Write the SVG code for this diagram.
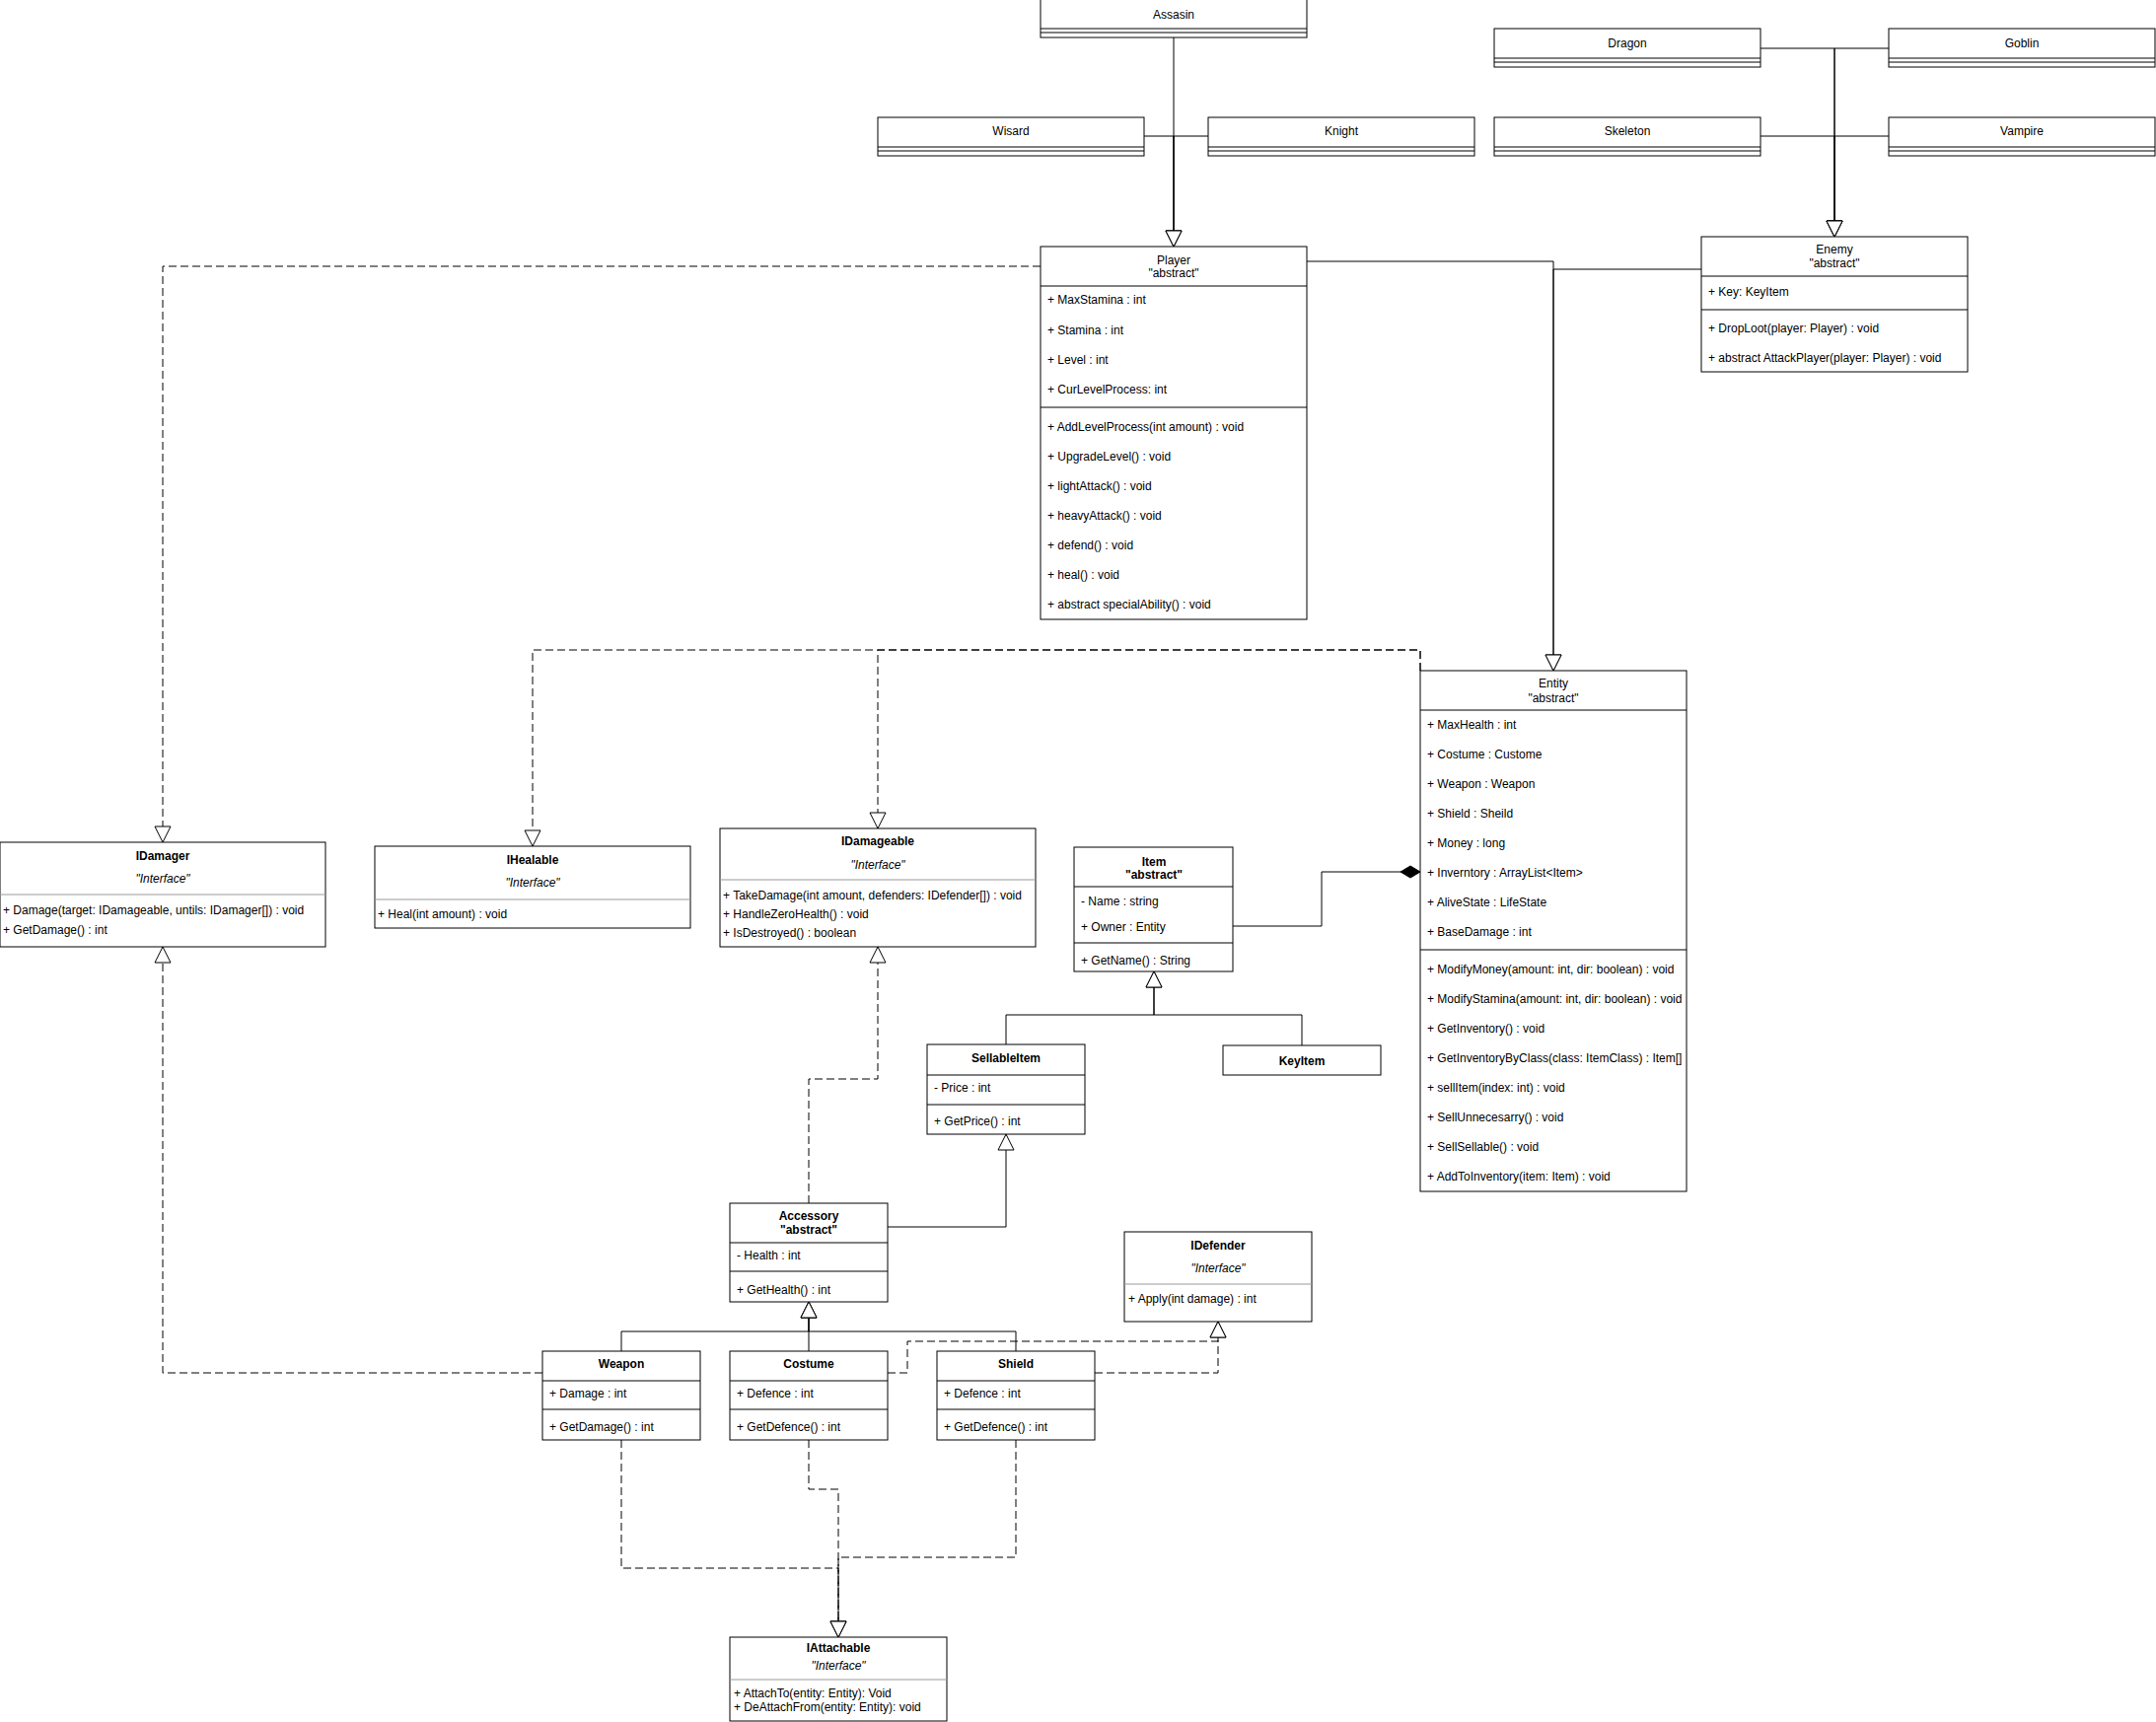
<svg xmlns="http://www.w3.org/2000/svg" width="2186" height="1746" viewBox="0 0 2186 1746">
<style>
.box{fill:#fff;stroke:#000;stroke-width:1}
.sep{stroke:#000;stroke-width:1}
.isep{stroke:#999;stroke-width:1}
.t{font-family:"Liberation Sans",Arial,sans-serif;font-size:12px;fill:#000}
.c{text-anchor:middle}
.b{font-weight:bold}
.i{font-style:italic}
.e{fill:none;stroke:#000;stroke-width:1}
.d{stroke-dasharray:8 4}
.tri{marker-end:url(#tri)}
</style>
<defs>
<marker id="tri" viewBox="0 0 18 18" markerWidth="18" markerHeight="18" refX="17" refY="9" orient="auto" markerUnits="userSpaceOnUse">
<path d="M1,1 L17,9 L1,17 Z" fill="#fff" stroke="#000" stroke-width="1" stroke-dasharray="none"/>
</marker>
<marker id="dia" viewBox="0 0 22 14" markerWidth="22" markerHeight="14" refX="21" refY="7" orient="auto" markerUnits="userSpaceOnUse">
<path d="M1,7 L11,1 L21,7 L11,13 Z" fill="#000" stroke="#000" stroke-width="1" stroke-dasharray="none"/>
</marker>
</defs>
<rect x="0" y="0" width="2186" height="1746" fill="#fff"/>

<g id="connectors">
<path class="e tri" d="M1190,38 V250"/>
<path class="e tri" d="M1160,138 H1190 V250"/>
<path class="e tri" d="M1225,138 H1190 V250"/>
<path class="e tri" d="M1785,49 H1860 V240"/>
<path class="e tri" d="M1915,49 H1860 V240"/>
<path class="e tri" d="M1785,138 H1860 V240"/>
<path class="e tri" d="M1915,138 H1860 V240"/>
<path class="e tri" d="M1325,265 H1575 V680"/>
<path class="e tri" d="M1725,273 H1575 V680"/>
<path class="e d tri" d="M1055,270 H165 V854"/>
<path class="e d tri" d="M1440,680 V659 H540 V858"/>
<path class="e d tri" d="M1440,680 V659 H890 V840"/>
<path class="e" d="M1250,939 H1340 V884 H1440" marker-end="url(#dia)"/>
<path class="e tri" d="M1020,1059 V1029 H1170 V985"/>
<path class="e tri" d="M1320,1060 V1029 H1170 V985"/>
<path class="e tri" d="M900,1244 H1020 V1150"/>
<path class="e d tri" d="M820,1220 V1094 H890 V960"/>
<path class="e tri" d="M630,1370 V1350 H820 V1320"/>
<path class="e tri" d="M820,1370 V1320"/>
<path class="e tri" d="M1030,1370 V1350 H820 V1320"/>
<path class="e d tri" d="M550,1392 H165 V960"/>
<path class="e d tri" d="M900,1392 H920 V1360 H1235 V1340"/>
<path class="e d tri" d="M1110,1392 H1235 V1340"/>
<path class="e d tri" d="M630,1460 V1590 H850 V1660"/>
<path class="e d tri" d="M820,1460 V1510 H850 V1660"/>
<path class="e d tri" d="M1030,1460 V1579 H850 V1660"/>
</g>

<g id="Assasin">
<rect class="box" x="1055" y="-1" width="270" height="39"/>
<line class="sep" x1="1055" y1="29" x2="1325" y2="29"/>
<line class="sep" x1="1055" y1="33" x2="1325" y2="33"/>
<text class="t c" x="1190" y="19">Assasin</text>
</g>
<g id="Wisard">
<rect class="box" x="890" y="119" width="270" height="39"/>
<line class="sep" x1="890" y1="149" x2="1160" y2="149"/>
<line class="sep" x1="890" y1="153" x2="1160" y2="153"/>
<text class="t c" x="1025" y="137">Wisard</text>
</g>
<g id="Knight">
<rect class="box" x="1225" y="119" width="270" height="39"/>
<line class="sep" x1="1225" y1="149" x2="1495" y2="149"/>
<line class="sep" x1="1225" y1="153" x2="1495" y2="153"/>
<text class="t c" x="1360" y="137">Knight</text>
</g>
<g id="Dragon">
<rect class="box" x="1515" y="29" width="270" height="39"/>
<line class="sep" x1="1515" y1="59" x2="1785" y2="59"/>
<line class="sep" x1="1515" y1="63" x2="1785" y2="63"/>
<text class="t c" x="1650" y="48">Dragon</text>
</g>
<g id="Goblin">
<rect class="box" x="1915" y="29" width="270" height="39"/>
<line class="sep" x1="1915" y1="59" x2="2185" y2="59"/>
<line class="sep" x1="1915" y1="63" x2="2185" y2="63"/>
<text class="t c" x="2050" y="48">Goblin</text>
</g>
<g id="Skeleton">
<rect class="box" x="1515" y="119" width="270" height="39"/>
<line class="sep" x1="1515" y1="149" x2="1785" y2="149"/>
<line class="sep" x1="1515" y1="153" x2="1785" y2="153"/>
<text class="t c" x="1650" y="137">Skeleton</text>
</g>
<g id="Vampire">
<rect class="box" x="1915" y="119" width="270" height="39"/>
<line class="sep" x1="1915" y1="149" x2="2185" y2="149"/>
<line class="sep" x1="1915" y1="153" x2="2185" y2="153"/>
<text class="t c" x="2050" y="137">Vampire</text>
</g>

<g id="Player">
<rect class="box" x="1055" y="250" width="270" height="378"/>
<line class="sep" x1="1055" y1="290" x2="1325" y2="290"/>
<line class="sep" x1="1055" y1="413" x2="1325" y2="413"/>
<text class="t c" x="1190" y="268">Player</text>
<text class="t c" x="1190" y="281">"abstract"</text>
<text class="t" x="1062" y="308">+ MaxStamina : int</text>
<text class="t" x="1062" y="339">+ Stamina : int</text>
<text class="t" x="1062" y="369">+ Level : int</text>
<text class="t" x="1062" y="399">+ CurLevelProcess: int</text>
<text class="t" x="1062" y="437">+ AddLevelProcess(int amount) : void</text>
<text class="t" x="1062" y="467">+ UpgradeLevel() : void</text>
<text class="t" x="1062" y="497">+ lightAttack() : void</text>
<text class="t" x="1062" y="527">+ heavyAttack() : void</text>
<text class="t" x="1062" y="557">+ defend() : void</text>
<text class="t" x="1062" y="587">+ heal() : void</text>
<text class="t" x="1062" y="617">+ abstract specialAbility() : void</text>
</g>

<g id="Enemy">
<rect class="box" x="1725" y="240" width="270" height="137"/>
<line class="sep" x1="1725" y1="280" x2="1995" y2="280"/>
<line class="sep" x1="1725" y1="314" x2="1995" y2="314"/>
<text class="t c" x="1860" y="257">Enemy</text>
<text class="t c" x="1860" y="271">"abstract"</text>
<text class="t" x="1732" y="300">+ Key: KeyItem</text>
<text class="t" x="1732" y="337">+ DropLoot(player: Player) : void</text>
<text class="t" x="1732" y="367">+ abstract AttackPlayer(player: Player) : void</text>
</g>

<g id="Entity">
<rect class="box" x="1440" y="680" width="270" height="528"/>
<line class="sep" x1="1440" y1="720" x2="1710" y2="720"/>
<line class="sep" x1="1440" y1="963" x2="1710" y2="963"/>
<text class="t c" x="1575" y="697">Entity</text>
<text class="t c" x="1575" y="712">"abstract"</text>
<text class="t" x="1447" y="739">+ MaxHealth : int</text>
<text class="t" x="1447" y="769">+ Costume : Custome</text>
<text class="t" x="1447" y="799">+ Weapon : Weapon</text>
<text class="t" x="1447" y="829">+ Shield : Sheild</text>
<text class="t" x="1447" y="859">+ Money : long</text>
<text class="t" x="1447" y="889">+ Inverntory : ArrayList&lt;Item&gt;</text>
<text class="t" x="1447" y="919">+ AliveState : LifeState</text>
<text class="t" x="1447" y="949">+ BaseDamage : int</text>
<text class="t" x="1447" y="987">+ ModifyMoney(amount: int, dir: boolean) : void</text>
<text class="t" x="1447" y="1017">+ ModifyStamina(amount: int, dir: boolean) : void</text>
<text class="t" x="1447" y="1047">+ GetInventory() : void</text>
<text class="t" x="1447" y="1077">+ GetInventoryByClass(class: ItemClass) : Item[]</text>
<text class="t" x="1447" y="1107">+ sellItem(index: int) : void</text>
<text class="t" x="1447" y="1137">+ SellUnnecesarry() : void</text>
<text class="t" x="1447" y="1167">+ SellSellable() : void</text>
<text class="t" x="1447" y="1197">+ AddToInventory(item: Item) : void</text>
</g>

<g id="IDamager">
<rect class="box" x="0" y="854" width="330" height="106"/>
<line class="isep" x1="0" y1="907" x2="330" y2="907"/>
<text class="t c b" x="165" y="872">IDamager</text>
<text class="t c i" x="165" y="895">"Interface"</text>
<text class="t" x="3" y="927">+ Damage(target: IDamageable, untils: IDamager[]) : void</text>
<text class="t" x="3" y="947">+ GetDamage() : int</text>
</g>

<g id="IHealable">
<rect class="box" x="380" y="858" width="320" height="83"/>
<line class="isep" x1="380" y1="912" x2="700" y2="912"/>
<text class="t c b" x="540" y="876">IHealable</text>
<text class="t c i" x="540" y="899">"Interface"</text>
<text class="t" x="383" y="931">+ Heal(int amount) : void</text>
</g>

<g id="IDamageable">
<rect class="box" x="730" y="840" width="320" height="120"/>
<line class="isep" x1="730" y1="892" x2="1050" y2="892"/>
<text class="t c b" x="890" y="857">IDamageable</text>
<text class="t c i" x="890" y="881">"Interface"</text>
<text class="t" x="733" y="912">+ TakeDamage(int amount, defenders: IDefender[]) : void</text>
<text class="t" x="733" y="931">+ HandleZeroHealth() : void</text>
<text class="t" x="733" y="950">+ IsDestroyed() : boolean</text>
</g>

<g id="Item">
<rect class="box" x="1089" y="859" width="161" height="126"/>
<line class="sep" x1="1089" y1="899" x2="1250" y2="899"/>
<line class="sep" x1="1089" y1="956" x2="1250" y2="956"/>
<text class="t c b" x="1170" y="878">Item</text>
<text class="t c b" x="1170" y="891">"abstract"</text>
<text class="t" x="1096" y="918">- Name : string</text>
<text class="t" x="1096" y="944">+ Owner : Entity</text>
<text class="t" x="1096" y="978">+ GetName() : String</text>
</g>

<g id="SellableItem">
<rect class="box" x="940" y="1059" width="160" height="91"/>
<line class="sep" x1="940" y1="1090" x2="1100" y2="1090"/>
<line class="sep" x1="940" y1="1120" x2="1100" y2="1120"/>
<text class="t c b" x="1020" y="1077">SellableItem</text>
<text class="t" x="947" y="1107">- Price : int</text>
<text class="t" x="947" y="1141">+ GetPrice() : int</text>
</g>

<g id="KeyItem">
<rect class="box" x="1240" y="1060" width="160" height="30"/>
<text class="t c b" x="1320" y="1080">KeyItem</text>
</g>

<g id="Accessory">
<rect class="box" x="740" y="1220" width="160" height="100"/>
<line class="sep" x1="740" y1="1260" x2="900" y2="1260"/>
<line class="sep" x1="740" y1="1289" x2="900" y2="1289"/>
<text class="t c b" x="820" y="1237">Accessory</text>
<text class="t c b" x="820" y="1251">"abstract"</text>
<text class="t" x="747" y="1277">- Health : int</text>
<text class="t" x="747" y="1312">+ GetHealth() : int</text>
</g>

<g id="IDefender">
<rect class="box" x="1140" y="1249" width="190" height="91"/>
<line class="isep" x1="1140" y1="1302" x2="1330" y2="1302"/>
<text class="t c b" x="1235" y="1267">IDefender</text>
<text class="t c i" x="1235" y="1290">"Interface"</text>
<text class="t" x="1144" y="1321">+ Apply(int damage) : int</text>
</g>

<g id="Weapon">
<rect class="box" x="550" y="1370" width="160" height="90"/>
<line class="sep" x1="550" y1="1400" x2="710" y2="1400"/>
<line class="sep" x1="550" y1="1429" x2="710" y2="1429"/>
<text class="t c b" x="630" y="1387">Weapon</text>
<text class="t" x="557" y="1417">+ Damage : int</text>
<text class="t" x="557" y="1451">+ GetDamage() : int</text>
</g>

<g id="Costume">
<rect class="box" x="740" y="1370" width="160" height="90"/>
<line class="sep" x1="740" y1="1400" x2="900" y2="1400"/>
<line class="sep" x1="740" y1="1429" x2="900" y2="1429"/>
<text class="t c b" x="820" y="1387">Costume</text>
<text class="t" x="747" y="1417">+ Defence : int</text>
<text class="t" x="747" y="1451">+ GetDefence() : int</text>
</g>

<g id="Shield">
<rect class="box" x="950" y="1370" width="160" height="90"/>
<line class="sep" x1="950" y1="1400" x2="1110" y2="1400"/>
<line class="sep" x1="950" y1="1429" x2="1110" y2="1429"/>
<text class="t c b" x="1030" y="1387">Shield</text>
<text class="t" x="957" y="1417">+ Defence : int</text>
<text class="t" x="957" y="1451">+ GetDefence() : int</text>
</g>

<g id="IAttachable">
<rect class="box" x="740" y="1660" width="220" height="85"/>
<line class="isep" x1="740" y1="1703" x2="960" y2="1703"/>
<text class="t c b" x="850" y="1675">IAttachable</text>
<text class="t c i" x="850" y="1693">"Interface"</text>
<text class="t" x="744" y="1721">+ AttachTo(entity: Entity): Void</text>
<text class="t" x="744" y="1735">+ DeAttachFrom(entity: Entity): void</text>
</g>
</svg>
